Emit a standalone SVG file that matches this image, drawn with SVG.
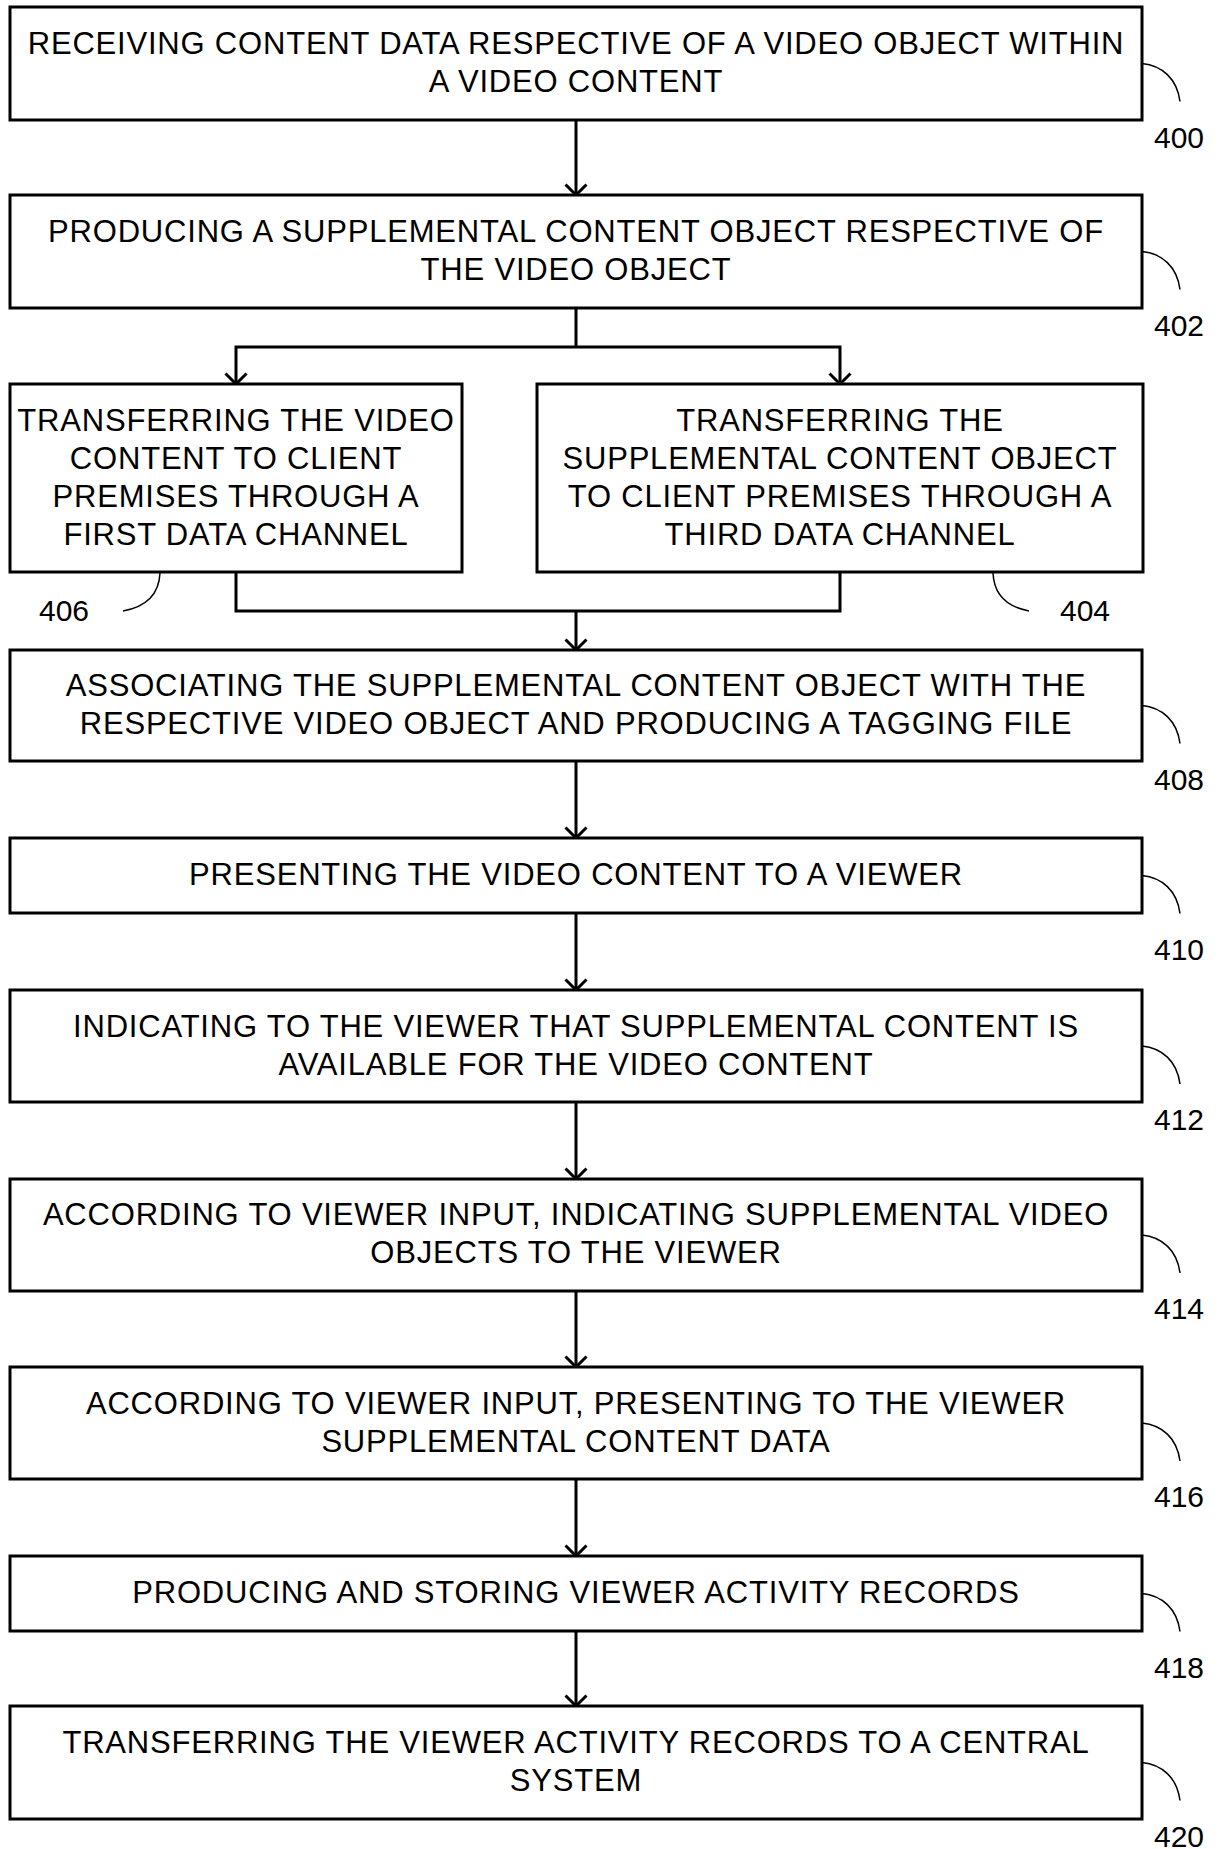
<svg xmlns="http://www.w3.org/2000/svg" width="1220" height="1849" viewBox="0 0 1220 1849">
  <style>
    .box { fill: #fff; stroke: #000; stroke-width: 3; }
    .txt { font-family: "Liberation Sans", Arial, sans-serif; font-size: 31px; letter-spacing: 0.8px; text-anchor: middle; fill: #000; }
    .ref { font-family: "Liberation Sans", Arial, sans-serif; font-size: 30px; fill: #000; }
    .lead { fill: none; stroke: #000; stroke-width: 1.5; }
    .wire { fill: none; stroke: #000; stroke-width: 3; }
  </style>
  <defs>
    <!-- open chevron arrowhead; tip sits on the path end -->
    <marker id="arrow" markerUnits="userSpaceOnUse" markerWidth="14" markerHeight="24" refX="12" refY="12" orient="auto" viewBox="0 0 14 24">
      <polyline points="1.5,1.5 12,12 1.5,22.5" fill="none" stroke="#000" stroke-width="3"/>
    </marker>
  </defs>
  <rect width="1220" height="1849" fill="#fff"/>

  <!-- flow connectors -->
  <g id="connectors">
    <path class="wire" d="M576 120 V195" marker-end="url(#arrow)"/>
    <path class="wire" d="M576 308 V347"/>
    <path class="wire" d="M576 347 H236 V384" marker-end="url(#arrow)"/>
    <path class="wire" d="M576 347 H840 V384" marker-end="url(#arrow)"/>
    <path class="wire" d="M236 572 V611 H840 V572"/>
    <path class="wire" d="M576 611 V650" marker-end="url(#arrow)"/>
    <path class="wire" d="M576 761 V838" marker-end="url(#arrow)"/>
    <path class="wire" d="M576 913 V990" marker-end="url(#arrow)"/>
    <path class="wire" d="M576 1102 V1179" marker-end="url(#arrow)"/>
    <path class="wire" d="M576 1291 V1367" marker-end="url(#arrow)"/>
    <path class="wire" d="M576 1479 V1556" marker-end="url(#arrow)"/>
    <path class="wire" d="M576 1631 V1706" marker-end="url(#arrow)"/>
  </g>

  <g id="step400">
    <rect class="box" x="10" y="7" width="1132" height="113"/>
    <text class="txt" x="576" y="54">RECEIVING CONTENT DATA RESPECTIVE OF A VIDEO OBJECT WITHIN</text>
    <text class="txt" x="576" y="92">A VIDEO CONTENT</text>
    <path class="lead" d="M1142 63.5 C1162 65.5 1177 78.5 1180 101.5"/>
    <text class="ref" x="1154" y="147.5">400</text>
  </g>

  <g id="step402">
    <rect class="box" x="10" y="195" width="1132" height="113"/>
    <text class="txt" x="576" y="242">PRODUCING A SUPPLEMENTAL CONTENT OBJECT RESPECTIVE OF</text>
    <text class="txt" x="576" y="280">THE VIDEO OBJECT</text>
    <path class="lead" d="M1142 251.5 C1162 253.5 1177 266.5 1180 289.5"/>
    <text class="ref" x="1154" y="335.5">402</text>
  </g>

  <g id="step406">
    <rect class="box" x="10" y="384" width="452" height="188"/>
    <text class="txt" x="236" y="431">TRANSFERRING THE VIDEO</text>
    <text class="txt" x="236" y="469">CONTENT TO CLIENT</text>
    <text class="txt" x="236" y="507">PREMISES THROUGH A</text>
    <text class="txt" x="236" y="545">FIRST DATA CHANNEL</text>
    <path class="lead" d="M160 573 C159 595 145 607 123 611"/>
    <text class="ref" x="39" y="621">406</text>
  </g>

  <g id="step404">
    <rect class="box" x="537" y="384" width="606" height="188"/>
    <text class="txt" x="840" y="431">TRANSFERRING THE</text>
    <text class="txt" x="840" y="469">SUPPLEMENTAL CONTENT OBJECT</text>
    <text class="txt" x="840" y="507">TO CLIENT PREMISES THROUGH A</text>
    <text class="txt" x="840" y="545">THIRD DATA CHANNEL</text>
    <path class="lead" d="M993 573 C994 595 1008 607 1029 611"/>
    <text class="ref" x="1060" y="621">404</text>
  </g>

  <g id="step408">
    <rect class="box" x="10" y="650" width="1132" height="111"/>
    <text class="txt" x="576" y="696">ASSOCIATING THE SUPPLEMENTAL CONTENT OBJECT WITH THE</text>
    <text class="txt" x="576" y="734">RESPECTIVE VIDEO OBJECT AND PRODUCING A TAGGING FILE</text>
    <path class="lead" d="M1142 705.5 C1162 707.5 1177 720.5 1180 743.5"/>
    <text class="ref" x="1154" y="789.5">408</text>
  </g>

  <g id="step410">
    <rect class="box" x="10" y="838" width="1132" height="75"/>
    <text class="txt" x="576" y="885">PRESENTING THE VIDEO CONTENT TO A VIEWER</text>
    <path class="lead" d="M1142 875.5 C1162 877.5 1177 890.5 1180 913.5"/>
    <text class="ref" x="1154" y="959.5">410</text>
  </g>

  <g id="step412">
    <rect class="box" x="10" y="990" width="1132" height="112"/>
    <text class="txt" x="576" y="1037">INDICATING TO THE VIEWER THAT SUPPLEMENTAL CONTENT IS</text>
    <text class="txt" x="576" y="1075">AVAILABLE FOR THE VIDEO CONTENT</text>
    <path class="lead" d="M1142 1046 C1162 1048 1177 1061 1180 1084"/>
    <text class="ref" x="1154" y="1130">412</text>
  </g>

  <g id="step414">
    <rect class="box" x="10" y="1179" width="1132" height="112"/>
    <text class="txt" x="576" y="1225">ACCORDING TO VIEWER INPUT, INDICATING SUPPLEMENTAL VIDEO</text>
    <text class="txt" x="576" y="1263">OBJECTS TO THE VIEWER</text>
    <path class="lead" d="M1142 1235 C1162 1237 1177 1250 1180 1273"/>
    <text class="ref" x="1154" y="1319">414</text>
  </g>

  <g id="step416">
    <rect class="box" x="10" y="1367" width="1132" height="112"/>
    <text class="txt" x="576" y="1414">ACCORDING TO VIEWER INPUT, PRESENTING TO THE VIEWER</text>
    <text class="txt" x="576" y="1452">SUPPLEMENTAL CONTENT DATA</text>
    <path class="lead" d="M1142 1423 C1162 1425 1177 1438 1180 1461"/>
    <text class="ref" x="1154" y="1507">416</text>
  </g>

  <g id="step418">
    <rect class="box" x="10" y="1556" width="1132" height="75"/>
    <text class="txt" x="576" y="1603">PRODUCING AND STORING VIEWER ACTIVITY RECORDS</text>
    <path class="lead" d="M1142 1593.5 C1162 1595.5 1177 1608.5 1180 1631.5"/>
    <text class="ref" x="1154" y="1677.5">418</text>
  </g>

  <g id="step420">
    <rect class="box" x="10" y="1706" width="1132" height="113"/>
    <text class="txt" x="576" y="1753">TRANSFERRING THE VIEWER ACTIVITY RECORDS TO A CENTRAL</text>
    <text class="txt" x="576" y="1791">SYSTEM</text>
    <path class="lead" d="M1142 1762.5 C1162 1764.5 1177 1777.5 1180 1800.5"/>
    <text class="ref" x="1154" y="1846.5">420</text>
  </g>
</svg>
